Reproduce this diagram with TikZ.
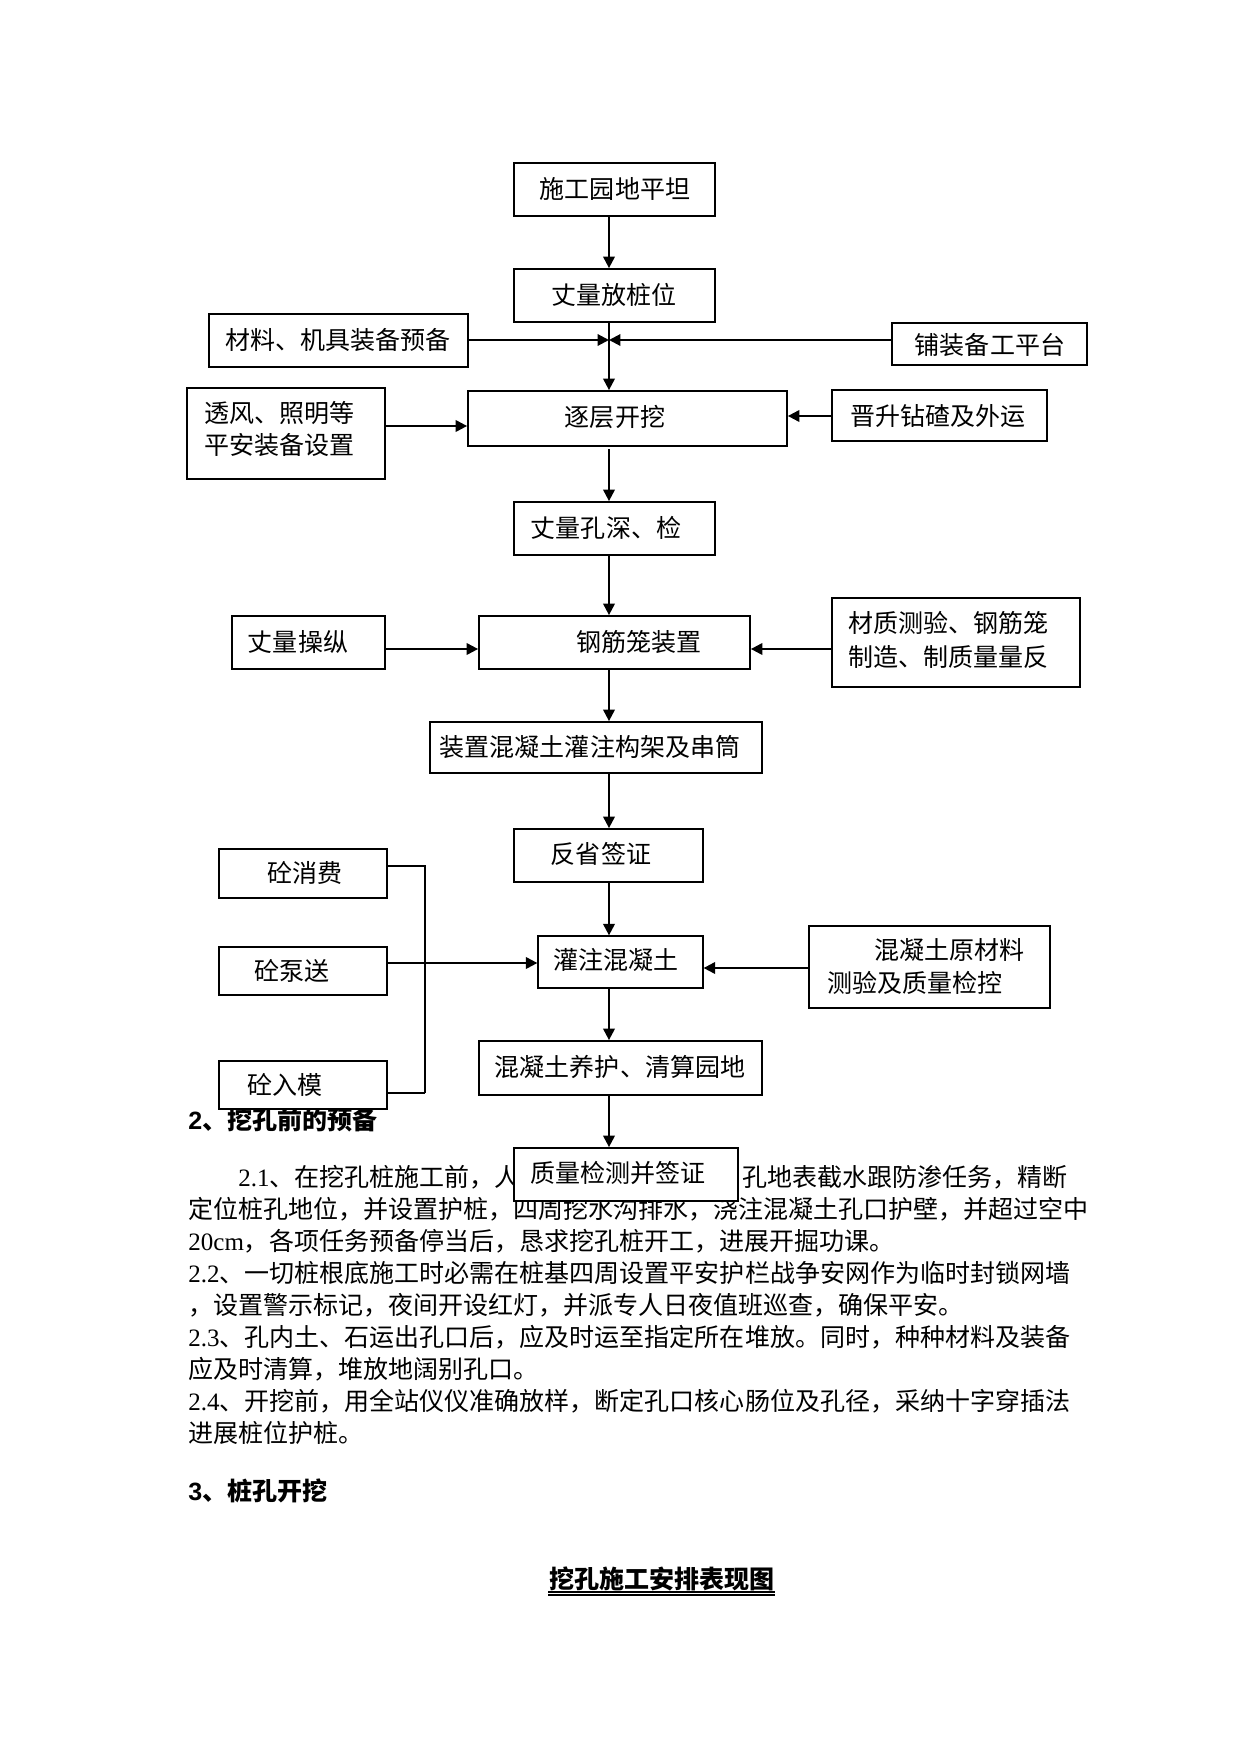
\documentclass[tikz,border=0pt]{standalone}
\usepackage{fontspec}
\setmainfont{Liberation Serif}
\newfontfamily\cjk{Noto Sans CJK SC}
\newfontfamily\lat{Liberation Serif}
\newfontfamily\latb{Liberation Sans}
\usetikzlibrary{fit,arrows.meta}
\begin{document}
\begin{tikzpicture}[x=0.4797pt,y=-0.4797pt,
  box/.style={draw, line width=0.85pt, inner sep=0pt, fill=white},
  thinbox/.style={draw, line width=0.6pt, inner sep=0pt, fill=white},
  lbl/.style={inner sep=0pt, font=\cjk\fontsize{12pt}{15.4pt}\selectfont},
  txt/.style={inner sep=0pt, anchor=west, font=\cjk\fontsize{12pt}{15pt}\selectfont},
  head/.style={inner sep=0pt, anchor=west, font=\cjk\bfseries\fontsize{12pt}{15pt}\selectfont},
  arr/.style={line width=1pt, -{Triangle[length=5.5pt,width=5.5pt]}},
  link/.style={line width=0.6pt}]
\useasboundingbox (0,0) rectangle (1241,1754);
\coordinate (ax) at (609,0);

% ---- paragraph text (drawn first, the last box covers part of it)
\node[head] (h2) at (188,1120) {{\latb\bfseries 2}、挖孔前的预备};
\node[txt] (p1a) at (238,1177) {{\lat 2.1}、在挖孔桩施工前，人};
\node[txt] (p1b) at (742,1177) {孔地表截水跟防渗任务，精断};
\node[txt] (p2) at (188,1209) {定位桩孔地位，并设置护桩，四周挖水沟排水，浇注混凝土孔口护壁，并超过空中};
\node[txt] (p3) at (188,1241) {{\lat 20cm}，各项任务预备停当后，恳求挖孔桩开工，进展开掘功课。};
\node[txt] (p4) at (188,1273) {{\lat 2.2}、一切桩根底施工时必需在桩基四周设置平安护栏战争安网作为临时封锁网墙};
\node[txt] (p5) at (188,1305) {，设置警示标记，夜间开设红灯，并派专人日夜值班巡查，确保平安。};
\node[txt] (p6) at (188,1337) {{\lat 2.3}、孔内土、石运出孔口后，应及时运至指定所在堆放。同时，种种材料及装备};
\node[txt] (p7) at (188,1369) {应及时清算，堆放地阔别孔口。};
\node[txt] (p8) at (188,1401) {{\lat 2.4}、开挖前，用全站仪仪准确放样，断定孔口核心肠位及孔径，采纳十字穿插法};
\node[txt] (p9) at (188,1433) {进展桩位护桩。};
\node[head] (h3) at (188,1491) {{\latb\bfseries 3}、桩孔开挖};
\node[head, anchor=center] (title) at (662,1579) {挖孔施工安排表现图};
\draw[line width=0.6pt] (548,1592) coordinate (u1) -- (775,1592) coordinate (u2);
\draw[line width=0.6pt] (548,1595) coordinate (u3) -- (775,1595) coordinate (u4);

% ---- boxes
\node[box, fit={(514,163) (715,216)}] (A) {};
\node[box, fit={(514,269) (715,322)}] (B) {};
\node[box, fit={(209,314) (468,367)}] (C) {};
\node[thinbox, fit={(892,323) (1087,365)}] (D) {};
\node[box, fit={(468,391) (787,446)}] (E) {};
\node[box, fit={(187,388) (385,479)}] (F) {};
\node[box, fit={(832,390) (1047,441)}] (G) {};
\node[box, fit={(514,502) (715,555)}] (H) {};
\node[box, fit={(479,616) (750,669)}] (I) {};
\node[box, fit={(232,616) (385,669)}] (K) {};
\node[box, fit={(832,598) (1080,687)}] (L) {};
\node[box, fit={(430,722) (762,773)}] (M) {};
\node[box, fit={(514,829) (703,882)}] (N) {};
\node[thinbox, fit={(538,936) (703,988)}] (O) {};
\node[box, fit={(219,849) (387,898)}] (P) {};
\node[thinbox, fit={(219,947) (387,995)}] (Q) {};
\node[box, fit={(219,1061) (387,1109)}] (R) {};
\node[box, fit={(809,926) (1050,1008)}] (S) {};
\node[box, fit={(479,1041) (762,1095)}] (T) {};
\node[box, fit={(514,1148) (738,1201)}] (U) {};

% ---- box texts
\node[lbl] (At) at (615,189) {施工园地平坦};
\node[lbl] (Bt) at (614,295) {丈量放桩位};
\node[lbl] (Ct) at (338,340) {材料、机具装备预备};
\node[lbl] (Dt) at (990,345) {铺装备工平台};
\node[lbl] (Et) at (615,417) {逐层开挖};
\node[lbl, anchor=west, align=left] (Ft) at (204,429) {透风、照明等\\平安装备设置};
\node[lbl] (Gt) at (938,416) {晋升钻碴及外运};
\node[lbl] (Ht) at (606,528) {丈量孔深、检};
\node[lbl] (It) at (639,642) {钢筋笼装置};
\node[lbl] (Kt) at (298,642) {丈量操纵};
\node[lbl, anchor=west, align=left, font=\cjk\fontsize{12pt}{16.3pt}\selectfont] (Lt) at (848,640) {材质测验、钢筋笼\\制造、制质量量反};
\node[lbl] (Mt) at (590,747) {装置混凝土灌注构架及串筒};
\node[lbl] (Nt) at (601,854) {反省签证};
\node[lbl] (Ot) at (616,960) {灌注混凝土};
\node[lbl] (Pt) at (305,873) {砼消费};
\node[lbl] (Qt) at (292,971) {砼泵送};
\node[lbl] (Rt) at (285,1085) {砼入模};
\node[lbl, anchor=west] (S1) at (874,950) {混凝土原材料};
\node[lbl, anchor=west] (S2) at (827,983) {测验及质量检控};
\node[lbl] (Tt) at (620,1067) {混凝土养护、清算园地};
\node[lbl] (Ut) at (618,1173) {质量检测并签证};

% ---- connectors
\coordinate (J) at (609,340);
\draw[arr] (A.south -| ax) -- (B.north -| ax);
\draw[arr] (C.east |- J) -- (J);
\draw[arr] (D.west |- J) -- (J);
\draw[arr] (B.south -| ax) -- (E.north -| ax);
\draw[arr] (F.east |- 0,426) -- (E.west |- 0,426);
\draw[arr] (G.west |- 0,416) -- (E.east |- 0,416);
\draw[arr] (609,449) -- (H.north -| ax);
\draw[arr] (H.south -| ax) -- (I.north -| ax);
\draw[arr] (K.east |- 0,649) -- (I.west |- 0,649);
\draw[arr] (L.west |- 0,649) -- (I.east |- 0,649);
\draw[arr] (I.south -| ax) -- (M.north -| ax);
\draw[arr] (M.south -| ax) -- (N.north -| ax);
\draw[arr] (N.south -| ax) -- (O.north -| ax);
\coordinate (br1) at (425,866);
\coordinate (br2) at (425,1093);
\draw[link] (P.east |- br1) -- (br1) -- (br2);
\draw[line width=1pt] (br2) -- (R.east |- br2);
\draw[arr] (Q.east |- 0,963) -- (O.west |- 0,963);
\draw[arr] (S.west |- 0,968) -- (O.east |- 0,968);
\draw[arr] (O.south -| ax) -- (T.north -| ax);
\draw[arr] (T.south -| ax) -- (U.north -| ax);
\end{tikzpicture}
\end{document}
